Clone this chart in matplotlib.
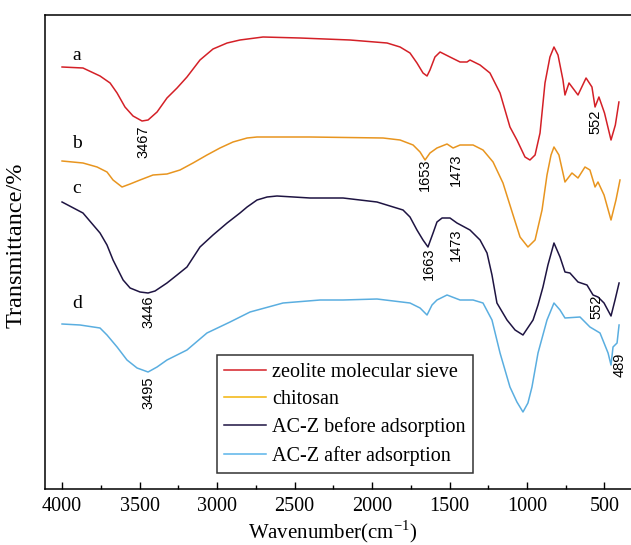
"""
FTIR spectra of zeolite, chitosan and AC-Z before/after adsorption.
"""

import matplotlib
import matplotlib.pyplot as plt
from matplotlib.lines import Line2D

matplotlib.use("Agg")

# ── data (transmittance in arbitrary, offset units) ───────────────
wn_a = [4000, 3865, 3755, 3690, 3645, 3594, 3542, 3484, 3445, 3387, 3323, 3258,
        3194, 3110, 3026, 2935, 2852, 2703, 2465, 2142, 1903, 1819, 1755, 1710,
        1671, 1645, 1626, 1594, 1561, 1497, 1432, 1387, 1368, 1303, 1239, 1174,
        1110, 1065, 1013, 981, 948, 916, 884, 852, 826, 800, 768, 755, 729,
        671, 619, 581, 561, 536, 500, 458, 430, 407]
t_a = [422, 421, 413, 406, 396, 382, 373, 368, 369, 377, 391, 401,
       412, 429, 440, 446, 449, 452, 451, 449, 446, 442, 436, 426,
       416, 413, 419, 432, 437, 432, 427, 427, 429, 424, 416, 396,
       362, 349, 332, 329, 334, 356, 406, 432, 442, 434, 409, 394, 406,
       394, 411, 402, 382, 392, 376, 349, 364, 387]

wn_b = [4000, 3865, 3774, 3710, 3671, 3613, 3561, 3497, 3413, 3323, 3239, 3155,
        3065, 2981, 2897, 2806, 2742, 2400, 1929, 1819, 1735, 1690, 1658, 1626,
        1581, 1516, 1477, 1432, 1348, 1284, 1219, 1155, 1090, 1045, 994, 948,
        903, 871, 845, 826, 794, 755, 710, 671, 626, 594, 561, 542, 503,
        458, 426, 400]
t_b = [328, 326, 322, 317, 309, 302, 305, 309, 314, 315, 319, 326,
       334, 341, 347, 351, 352, 352, 351, 349, 344, 337, 329, 336,
       341, 345, 341, 344, 344, 339, 327, 306, 274, 252, 242, 249,
       279, 314, 334, 342, 334, 307, 316, 311, 322, 319, 302, 307, 294,
       269, 289, 309]

wn_c = [4000, 3865, 3755, 3710, 3671, 3606, 3561, 3497, 3445, 3400, 3323, 3258,
        3194, 3110, 3026, 2935, 2852, 2806, 2742, 2677, 2613, 2400, 2187, 1968,
        1800, 1755, 1710, 1671, 1639, 1606, 1581, 1548, 1497, 1452, 1368, 1303,
        1258, 1226, 1194, 1129, 1077, 1026, 961, 929, 897, 865, 826, 787,
        755, 723, 671, 613, 574, 542, 503, 458, 432, 406]
t_c = [287, 276, 256, 244, 229, 209, 201, 197, 196, 198, 206, 214,
       222, 242, 254, 266, 276, 282, 289, 292, 293, 291, 291, 287,
       279, 272, 259, 249, 242, 256, 267, 271, 271, 266, 259, 249,
       236, 214, 186, 169, 159, 154, 169, 184, 202, 224, 246, 232,
       217, 216, 207, 204, 194, 192, 186, 173, 189, 206]

wn_d = [4000, 3884, 3755, 3710, 3645, 3581, 3516, 3445, 3387, 3323, 3194, 3065,
        2916, 2787, 2574, 2335, 2187, 1968, 1755, 1690, 1645, 1613, 1581, 1516,
        1432, 1348, 1284, 1226, 1174, 1110, 1065, 1026, 994, 968, 929, 871,
        826, 787, 755, 658, 594, 529, 477, 458, 445, 419, 406]
t_d = [165, 164, 161, 154, 142, 129, 121, 117, 122, 129, 139, 156,
       167, 177, 186, 189, 189, 190, 186, 181, 174, 184, 189, 194,
       189, 189, 186, 169, 136, 102, 87, 77, 86, 102, 136, 169,
       186, 179, 171, 172, 162, 156, 136, 124, 142, 146, 164]

series = [
    (wn_a, t_a, "#d42027", "zeolite molecular sieve", "a", 434),
    (wn_b, t_b, "#e8951f", "chitosan", "b", 346),
    (wn_c, t_c, "#1e1442", "AC-Z before adsorption", "c", 301),
    (wn_d, t_d, "#5aaee0", "AC-Z after adsorption", "d", 186),
]
legend_colors = ["#d42027", "#f2b40a", "#1e1442", "#5ab4ea"]

# peak labels: text, x (cm-1), y (same units as t_*)
peak_text = ["3467", "1653", "1473", "552", "1663", "1473", "3446", "552", "3495", "489"]
peak_x = [3477, 1658, 1458, 561, 1632, 1458, 3445, 554, 3445, 400]
peak_y = [347, 314, 319, 367, 225, 244, 177, 182, 96, 124]

# ── 画图 ──────────────────────────────────────────────────────────
plt.rcParams["font.family"] = ["Liberation Serif", "DejaVu Serif"]
plt.rcParams["mathtext.fontset"] = "custom"
plt.rcParams["mathtext.rm"] = "Liberation Serif"

fig = plt.figure(figsize=(6.31, 5.45), dpi=100)
ax = fig.add_axes([45 / 631, 56 / 545, 586 / 631, 474 / 545])

for wn, t, color, label, letter, ly in series:
    ax.plot(wn, t, color=color, lw=1.1)
    ax.text(3903, ly, letter, fontsize=14, ha="center", va="center")

for s, x, y in zip(peak_text, peak_x, peak_y):
    ax.text(x, y, s, rotation=90, fontsize=10.5, ha="center", va="center",
            family=["Liberation Sans", "DejaVu Sans"])

ax.set_xlim(4110, 329)
ax.set_ylim(0, 474)
ax.set_xticks(range(500, 4001, 500))
ax.set_xticks(range(750, 4000, 500), minor=True)
ax.set_yticks([])
ax.tick_params(axis="x", which="major", direction="in", length=5, width=1,
               labelsize=14.5, pad=6)
ax.tick_params(axis="x", which="minor", direction="in", length=3, width=1)
ax.spines["right"].set_visible(False)
for sp in ("left", "bottom", "top"):
    ax.spines[sp].set_linewidth(1.1)

ax.set_xlabel("Wavenumber(cm$^{\\mathrm{-1}}$)", fontsize=15)
ax.xaxis.set_label_coords(0.49, -0.061)
ax.set_ylabel("Transmittance/%", fontsize=17.5)
ax.yaxis.set_label_coords(-0.031, 0.515)

handles = [Line2D([], [], color=c, lw=1.1) for c in legend_colors]
leg = ax.legend(handles, [s[3] for s in series], loc="lower left",
                bbox_to_anchor=(0.2935, 0.034), fontsize=14.5, frameon=True,
                fancybox=False, edgecolor="black", handlelength=2.1,
                handletextpad=0.3, labelspacing=0.42, borderpad=0.35,
                borderaxespad=0)
leg.get_frame().set_linewidth(1.1)

fig.savefig("out.png", dpi=100, facecolor="white")
